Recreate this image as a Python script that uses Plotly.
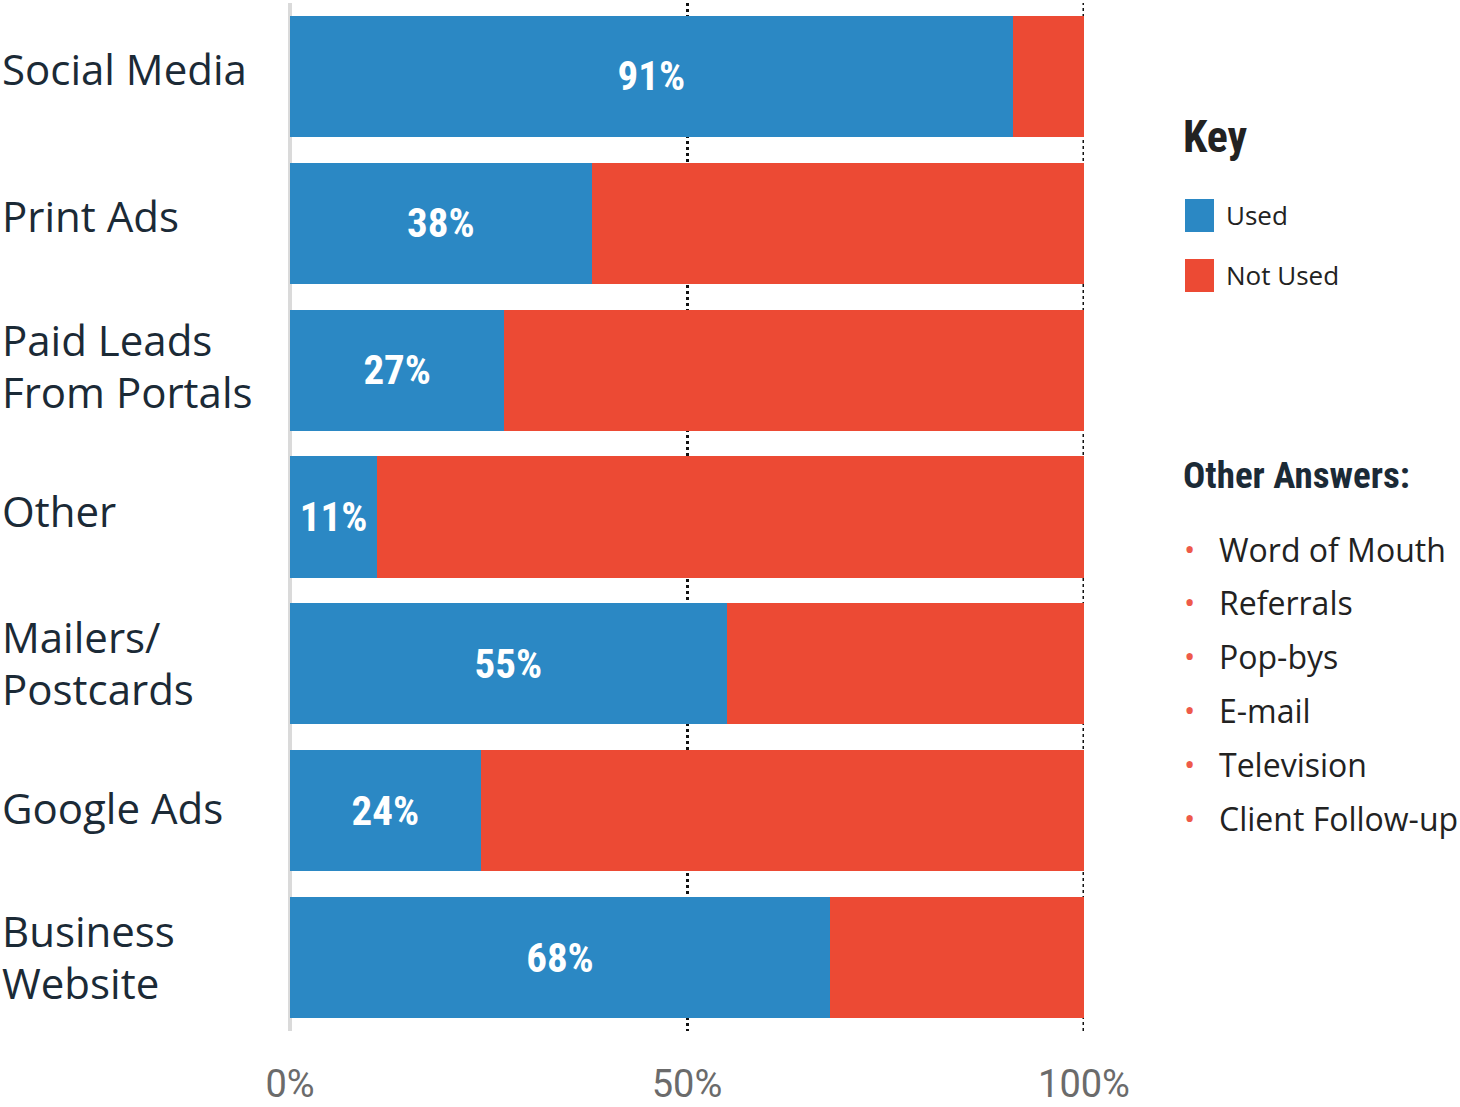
import plotly.graph_objects as go

# Survey results: share of respondents using each marketing channel
categories = ["Social Media", "Print Ads", "Paid Leads From Portals", "Other",
              "Mailers/ Postcards", "Google Ads", "Business Website"]
category_lines = [["Social Media"], ["Print Ads"], ["Paid Leads", "From Portals"],
                  ["Other"], ["Mailers/", "Postcards"], ["Google Ads"],
                  ["Business", "Website"]]
used = [91, 38, 27, 11, 55, 24, 68]
not_used = [9, 62, 73, 89, 45, 76, 32]
tick_values = [0, 50, 100]
tick_labels = ["0%", "50%", "100%"]
other_answers = ["Word of Mouth", "Referrals", "Pop-bys", "E-mail",
                 "Television", "Client Follow-up"]

BLUE = "#2B88C4"
RED = "#EC4A34"
DARK = "#222222"
NAVY = "#1B2A36"
CONDENSED = "Liberation Sans Narrow, Roboto Condensed, Arial Narrow, sans-serif"
BODY = "Open Sans, Noto Sans, sans-serif"

W, H = 1460, 1107
L, R, T, B = 290, 376, 3, 76
PW, PH = W - L - R, H - T - B


def px_x(px):
    return (px - L) / PW


def px_y(py):
    return 1 - (py - T) / PH


fig = go.Figure()
fig.add_trace(go.Bar(
    y=categories, x=used, orientation="h", name="Used",
    marker=dict(color=BLUE, line=dict(width=0)),
    texttemplate="%{x}%", textposition="inside", insidetextanchor="middle",
    constraintext="none", textangle=0,
    textfont=dict(family=CONDENSED, size=41, color="white", weight="bold"),
))
fig.add_trace(go.Bar(
    y=categories, x=not_used, orientation="h", name="Not Used",
    marker=dict(color=RED, line=dict(width=0)),
    hoverinfo="skip",
))

annotations = []
# category names, left-aligned at the page edge, one annotation per line
line_shifts = [[8], [8], [31, -21], [7], [27, -25], [3], [27, -25]]
for cat, lines, shifts in zip(categories, category_lines, line_shifts):
    for text, ys in zip(lines, shifts):
        annotations.append(dict(
            x=px_x(0), xref="paper", y=cat, yref="y", text=text, showarrow=False,
            xanchor="left", yanchor="middle", align="left", yshift=ys,
            font=dict(family=BODY, size=42, color=NAVY),
        ))

# key
annotations.append(dict(
    x=px_x(1181), xref="paper", y=px_y(137), yref="paper", text="Key",
    showarrow=False, xanchor="left", yanchor="middle",
    font=dict(family=CONDENSED, size=44, color=DARK, weight="bold"),
))
shapes = [
    # dotted rule at 100%
    dict(type="line", xref="x", yref="paper", x0=100, x1=100, y0=0, y1=1,
         line=dict(color="#111111", width=3, dash="dot"), layer="below"),
]
for ytop, name, color in [(199, "Used", BLUE), (259, "Not Used", RED)]:
    shapes.append(dict(
        type="rect", xref="paper", yref="paper",
        x0=px_x(1185), x1=px_x(1214), y0=px_y(ytop), y1=px_y(ytop + 33),
        fillcolor=color, line=dict(width=0),
    ))
    annotations.append(dict(
        x=px_x(1224), xref="paper", y=px_y(ytop + 16), yref="paper", text=name,
        showarrow=False, xanchor="left", yanchor="middle",
        font=dict(family=BODY, size=26, color=DARK),
    ))

# other answers list
annotations.append(dict(
    x=px_x(1181), xref="paper", y=px_y(476), yref="paper", text="Other Answers:",
    showarrow=False, xanchor="left", yanchor="middle",
    font=dict(family=CONDENSED, size=37, color=NAVY, weight="bold"),
))
for i, item in enumerate(other_answers):
    yc = 549 + i * 53.8
    annotations.append(dict(
        x=px_x(1189), xref="paper", y=px_y(yc - 1), yref="paper", text="•",
        showarrow=False, xanchor="center", yanchor="middle",
        font=dict(family=BODY, size=30, color="#EE5A4A"),
    ))
    annotations.append(dict(
        x=px_x(1217), xref="paper", y=px_y(yc), yref="paper", text=item,
        showarrow=False, xanchor="left", yanchor="middle",
        font=dict(family=BODY, size=32, color=DARK),
    ))

fig.update_layout(
    width=W, height=H,
    margin=dict(l=L, r=R, t=T, b=B, autoexpand=False),
    barmode="stack", bargap=0.175,
    showlegend=False,
    plot_bgcolor="white", paper_bgcolor="white",
    annotations=annotations, shapes=shapes,
    xaxis=dict(
        range=[0, 100], tickvals=tick_values, ticktext=tick_labels,
        showgrid=True, gridcolor="#111111", gridwidth=3, griddash="dot",
        zeroline=True, zerolinecolor="#DADADA", zerolinewidth=4,
        showline=False, ticks="", ticklabelstandoff=27, automargin=False,
        tickfont=dict(family="Roboto, sans-serif", size=38, color="#6B6B6B"),
        fixedrange=True,
    ),
    yaxis=dict(
        autorange="reversed", showticklabels=False, showgrid=False,
        zeroline=False, showline=False, ticks="", fixedrange=True,
        automargin=False,
    ),
)

fig.write_html("out.html")
